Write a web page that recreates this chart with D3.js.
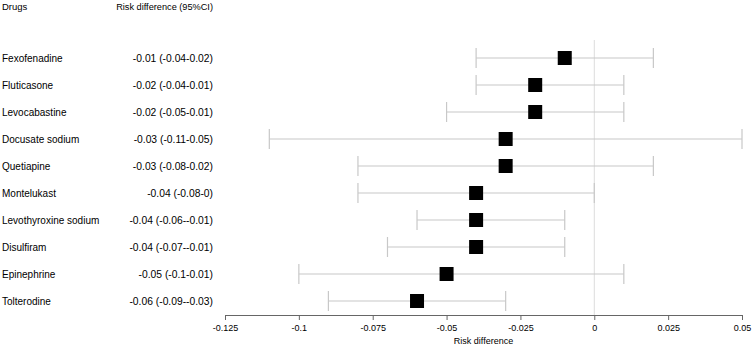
<!DOCTYPE html>
<html><head><meta charset="utf-8">
<script src="https://cdn.jsdelivr.net/npm/d3@7"></script>
<style>body{margin:0;background:#fff}svg{display:block}text{font-family:"Liberation Sans",Arial,sans-serif;fill:#000}</style>
</head><body><svg id="c" width="752" height="346"></svg>
<script>
const drugs = ["Fexofenadine","Fluticasone","Levocabastine","Docusate sodium","Quetiapine","Montelukast","Levothyroxine sodium","Disulfiram","Epinephrine","Tolterodine"];
const estimate = [-0.01,-0.02,-0.02,-0.03,-0.03,-0.04,-0.04,-0.04,-0.05,-0.06];
const lower = [-0.04,-0.04,-0.05,-0.11,-0.08,-0.08,-0.06,-0.07,-0.1,-0.09];
const upper = [0.02,0.01,0.01,0.05,0.02,0,-0.01,-0.01,0.01,-0.03];
const ciLabels = ["-0.01 (-0.04-0.02)","-0.02 (-0.04-0.01)","-0.02 (-0.05-0.01)","-0.03 (-0.11-0.05)","-0.03 (-0.08-0.02)","-0.04 (-0.08-0)","-0.04 (-0.06--0.01)","-0.04 (-0.07--0.01)","-0.05 (-0.1-0.01)","-0.06 (-0.09--0.03)"];
const tickValues = [-0.125,-0.1,-0.075,-0.05,-0.025,0,0.025,0.05];
const tickLabels = ["-0.125","-0.1","-0.075","-0.05","-0.025","0","0.025","0.05"];

const svg = d3.select("#c");
const x = d3.scaleLinear().domain([-0.125,0.05]).range([225,742]);
const y = d3.scalePoint().domain(drugs).range([58,301]);
const axisY = 315;

// headers
svg.append("text").attr("x",2).attr("y",10).attr("font-size",9.5).text("Drugs");
svg.append("text").attr("x",213).attr("y",10).attr("font-size",9.2).attr("text-anchor","end").text("Risk difference (95%CI)");

// zero line
svg.append("line").attr("x1",x(0)).attr("x2",x(0)).attr("y1",40).attr("y2",axisY)
  .attr("stroke","#dcdcdc").attr("stroke-width",1);

const rows = drugs.map((d,i)=>({d,e:estimate[i],lo:lower[i],hi:upper[i],lab:ciLabels[i]}));
const g = svg.append("g").selectAll("g").data(rows).join("g");
g.append("text").attr("x",2).attr("y",r=>y(r.d)+3.5).attr("font-size",10).text(r=>r.d);
g.append("text").attr("x",213).attr("y",r=>y(r.d)+3.5).attr("font-size",10.3).attr("text-anchor","end").text(r=>r.lab);
g.append("line").attr("x1",r=>x(r.lo)).attr("x2",r=>x(r.hi)).attr("y1",r=>y(r.d)).attr("y2",r=>y(r.d))
  .attr("stroke","#c8c8c8").attr("stroke-width",1.2);
g.append("line").attr("x1",r=>x(r.lo)).attr("x2",r=>x(r.lo)).attr("y1",r=>y(r.d)-10).attr("y2",r=>y(r.d)+10)
  .attr("stroke","#c8c8c8").attr("stroke-width",1.2);
g.append("line").attr("x1",r=>x(r.hi)).attr("x2",r=>x(r.hi)).attr("y1",r=>y(r.d)-10).attr("y2",r=>y(r.d)+10)
  .attr("stroke","#c8c8c8").attr("stroke-width",1.2);
g.append("rect").attr("x",r=>x(r.e)-7).attr("y",r=>y(r.d)-7).attr("width",14).attr("height",14).attr("fill","#000");

// axis
const ax = svg.append("g").attr("transform",`translate(0,${axisY})`)
  .call(d3.axisBottom(x).tickValues(tickValues).tickFormat((d,i)=>tickLabels[i]).tickSize(5).tickSizeOuter(0));
ax.select(".domain").attr("stroke","#666");
ax.selectAll(".tick line").attr("stroke","#666");
ax.selectAll(".tick text").attr("font-size",9).attr("font-family","Liberation Sans, Arial, sans-serif").attr("fill","#000").attr("dy","0.9em");
svg.append("text").attr("x",(x.range()[0]+x.range()[1])/2).attr("y",344).attr("font-size",9).attr("text-anchor","middle").text("Risk difference");
</script></body></html>
